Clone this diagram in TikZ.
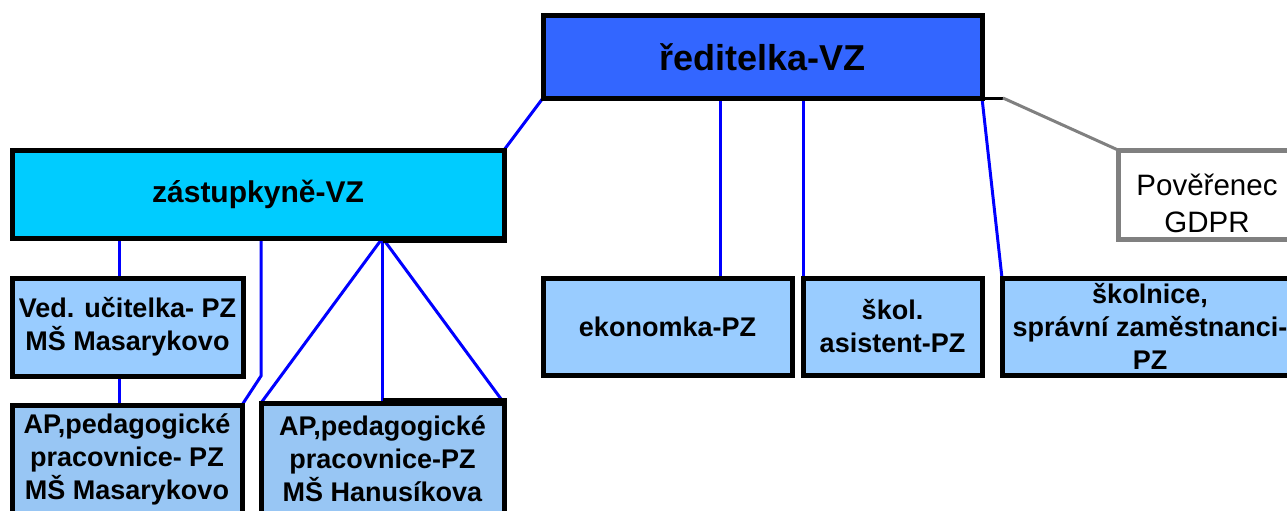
\documentclass[tikz,border=0pt]{standalone}
\usepackage{fontspec}
\setmainfont{Liberation Sans}
\usetikzlibrary{backgrounds,calc}
\definecolor{dirblue}{HTML}{3366FF}
\definecolor{zastblue}{HTML}{00CCFF}
\definecolor{lightblue}{HTML}{99CCFF}
\definecolor{apblue}{HTML}{98C6F4}
\definecolor{linkblue}{HTML}{0000FF}
\definecolor{gdprgray}{HTML}{808080}
\begin{document}
\begin{tikzpicture}[x=1pt,y=-1pt,
  box/.style={draw=black,line width=5pt,outer sep=0pt,inner sep=0pt,align=center,
    font=\bfseries\fontsize{27}{33}\selectfont},
  conn/.style={draw=linkblue,line width=3pt},
  graylink/.style={draw=gdprgray,line width=3pt}]
\useasboundingbox (0,0) rectangle (1287,511);
\clip (0,0) rectangle (1287,511);

% boxes
\node[box,fill=dirblue,minimum width=439pt,minimum height=82pt,font=\bfseries\fontsize{36}{40}\selectfont] (red) at (762.5,57) {ředitelka-VZ};
\node[box,fill=zastblue,minimum width=492pt,minimum height=88pt,font=\bfseries\fontsize{30}{34}\selectfont] (zast) at (258,194) {zástupkyně-VZ};
\node[box,fill=lightblue,minimum width=231pt,minimum height=98pt] (ved) at (127.5,327) {Ved. učitelka- PZ\\MŠ Masarykovo};
\node[box,fill=apblue,minimum width=230pt,minimum height=109pt] (ap1) at (127,459.5) {AP,pedagogické\\pracovnice- PZ\\MŠ Masarykovo};
\node[box,fill=apblue,minimum width=243pt,minimum height=111pt] (ap2) at (382.5,458.5) {AP,pedagogické\\pracovnice-PZ\\MŠ Hanusíkova};
\node[box,fill=lightblue,minimum width=249pt,minimum height=97pt] (eko) at (667.5,326.5) {ekonomka-PZ};
\node[box,fill=lightblue,minimum width=179pt,minimum height=97pt] (sko) at (892.5,326.5) {škol.\\asistent-PZ};
\node[box,fill=lightblue,minimum width=296pt,minimum height=97pt] (skn) at (1150,326.5) {školnice,\\správní zaměstnanci-\\PZ};
\node[box,draw=gdprgray,fill=white,minimum width=178pt,minimum height=89pt] (gdpr) at (1207,194.5) {};
\node[align=center,inner sep=0pt,font=\fontsize{29.5}{37}\selectfont] (gdprtext) at (1207,203.5) {Pověřenec\\GDPR};

% thicker border segments
\fill[black] ($(ap2.north |- zast.south)+(0,-2.5)$) rectangle ($(zast.south east)+(2.5,5)$);
\fill[black] ($(ap2.north)+(0,-5)$) rectangle ($(ap2.north east)+(2.5,2.5)$);

% connectors
\begin{scope}[on background layer]
\draw[conn] (zast.north east) -- (red.south west);
\draw[conn] (red.south west) ++(177,0) coordinate (e1) -- (e1 |- eko.north);
\draw[conn] (sko.north west |- red.south) -- (sko.north west);
\draw[conn] (red.south east) -- (skn.north west);
\draw[line width=3pt,black] (red.south east) -- ++(21,0) coordinate (g1);
\draw[graylink] (g1) -- (gdpr.north west);
\draw[conn] (ved.north west) ++(107,0) coordinate (v1) -- (v1 |- zast.south);
\draw[conn] (ved.south west) ++(107,0) coordinate (v2) -- (v2 |- ap1.north);
\draw[conn] (ap2.north west |- zast.south) -- (ap2.north west |- ved.south) -- (ap1.north east);
\draw[conn] (ap2.north |- zast.south) coordinate (f) -- (ap2.north west);
\draw[conn] (f) -- (ap2.north);
\draw[conn] (f) -- (ap2.north east);
\end{scope}
\end{tikzpicture}
\end{document}
